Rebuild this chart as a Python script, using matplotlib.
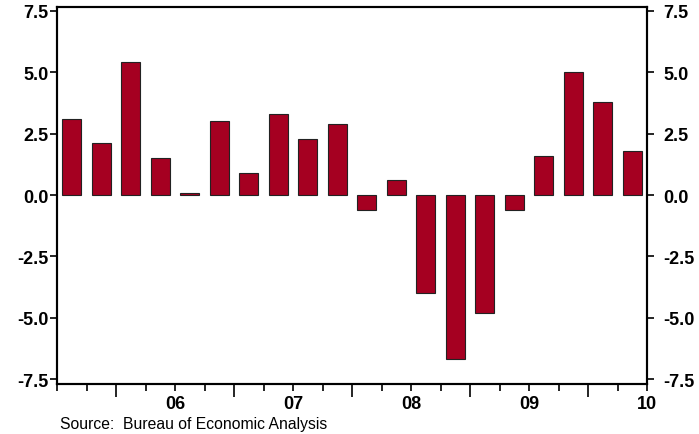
import numpy as np
import matplotlib.pyplot as plt

plt.rcParams['font.family'] = ['Liberation Sans', 'DejaVu Sans']

# quarterly real GDP growth, 2005Q1 .. 2009Q4
growth = [3.1, 2.1, 5.4, 1.5, 0.1, 3.0, 0.9, 3.3, 2.3, 2.9,
          -0.6, 0.6, -4.0, -6.7, -4.8, -0.6, 1.6, 5.0, 3.8, 1.8]
year_pos = [4, 8, 12, 16, 20]
year_labels = ['06', '07', '08', '09', '10']
y_ticks = [-7.5, -5.0, -2.5, 0.0, 2.5, 5.0, 7.5]

fig = plt.figure(figsize=(6.99, 4.35), dpi=100)
ax = fig.add_axes([57 / 699, 50 / 435, 590 / 699, 377 / 435])

ind = np.arange(len(growth)) + 0.5
ax.bar(ind, growth, 0.66, color='#A50021', edgecolor='#222222', linewidth=0.8)

ax.set_xlim(0, len(growth))
ax.set_ylim(-7.7, 7.66)

short = [i for i in range(len(growth) + 1) if i % 4 != 2]
long_ = [i for i in range(len(growth) + 1) if i % 4 == 2]
ax.set_xticks(short)
ax.set_xticklabels([year_labels[year_pos.index(i)] if i in year_pos else '' for i in short],
                   fontweight='bold')
ax.set_xticks(long_, minor=True)
ax.tick_params(axis='x', which='major', direction='out', length=5, width=1.2, pad=3,
               labelsize=13)
ax.tick_params(axis='x', which='minor', direction='out', length=9.5, width=1.2)

ax.set_yticks(y_ticks)
ax.set_yticklabels(['%.1f' % v for v in y_ticks], fontweight='bold')
ax.tick_params(axis='y', direction='out', length=5, width=1.2, labelsize=13, pad=1)

ax2 = ax.twinx()
ax2.set_ylim(ax.get_ylim())
ax2.set_yticks(y_ticks)
ax2.set_yticklabels(['%.1f' % v for v in y_ticks], fontweight='bold')
ax2.tick_params(axis='y', direction='out', length=5, width=1.2, labelsize=13, pad=7)

for a in (ax, ax2):
    for s in a.spines.values():
        s.set_linewidth(1.5)

fig.text(60 / 699, 1 - 425 / 435, 'Source:  Bureau of Economic Analysis', fontsize=11.3,
         va='center', ha='left')

fig.savefig('out.png', dpi=100)
